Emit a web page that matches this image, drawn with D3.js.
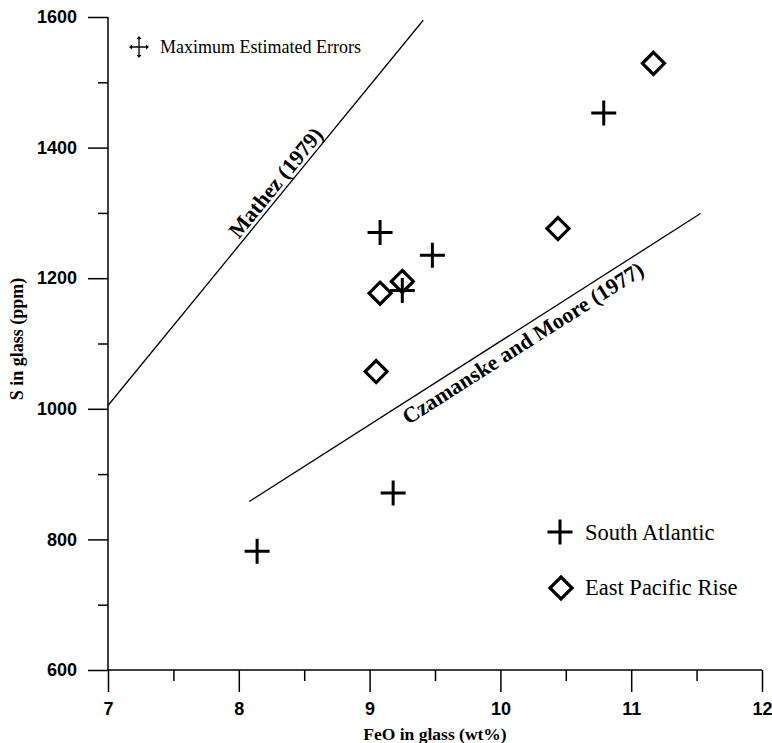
<!DOCTYPE html>
<html>
<head>
<meta charset="utf-8">
<script src="https://cdn.jsdelivr.net/npm/d3@7"></script>
<style>
  body { margin: 0; background: #fff; }
  svg { display: block; }
</style>
</head>
<body>
<svg width="772" height="743"></svg>
<script>
// South Atlantic glasses (FeO wt%, S ppm)
var saFeO = [8.14, 9.18, 9.08, 9.48, 9.25, 10.79];
var saS   = [782, 871, 1270, 1235, 1181, 1453];
// East Pacific Rise glasses
var eprFeO = [11.17, 10.44, 9.08, 9.25, 9.05];
var eprS   = [1529, 1276, 1177, 1195, 1057];
// saturation lines
var mathezFeO = [7.0, 9.41];
var mathezS   = [1005, 1595];
var czFeO = [8.08, 11.53];
var czS   = [858, 1299];

var xTicks = [7, 8, 9, 10, 11, 12];
var yTicks = [600, 800, 1000, 1200, 1400, 1600];

var svg = d3.select("svg");
var x = d3.scaleLinear().domain([7, 12]).range([108, 762]);
var y = d3.scaleLinear().domain([600, 1600]).range([670, 17]);

var tickFont = "'Liberation Sans', Arial, sans-serif";
var serif = "'Liberation Serif', 'Times New Roman', serif";

// y axis
svg.append("g").attr("class", "yax").attr("transform", "translate(108,0)")
    .call(d3.axisLeft(y).tickValues(yTicks).tickSize(20).tickPadding(11).tickFormat(d3.format("d")));
svg.append("g").attr("transform", "translate(108,0)")
    .call(d3.axisLeft(y).tickValues(d3.range(700, 1600, 200)).tickSize(10).tickFormat(""))
    .select(".domain").remove();

// x axis
svg.append("g").attr("class", "xax").attr("transform", "translate(0,670)")
    .call(d3.axisBottom(x).tickValues(xTicks).tickSize(22).tickPadding(10).tickFormat(d3.format("d")));
svg.append("g").attr("transform", "translate(0,670)")
    .call(d3.axisBottom(x).tickValues(d3.range(7.5, 12, 1)).tickSize(11).tickFormat(""))
    .select(".domain").remove();

svg.select(".yax .domain").attr("d", "M0,17V670");
svg.select(".xax .domain").attr("d", "M108,0H762");
svg.selectAll(".tick line").attr("stroke", "#000").attr("stroke-width", 1.5);
svg.selectAll(".domain").attr("stroke", "#000").attr("stroke-width", 1.5);
svg.selectAll(".tick text")
    .attr("font-family", tickFont).attr("font-weight", "bold").attr("font-size", 18).attr("fill", "#000");

// axis titles
svg.append("text").attr("x", 435).attr("y", 740).attr("text-anchor", "middle")
    .attr("font-family", serif).attr("font-weight", "bold").attr("font-size", 17.5)
    .text("FeO in glass (wt%)");
svg.append("text").attr("transform", "translate(23,339) rotate(-90)").attr("text-anchor", "middle")
    .attr("font-family", serif).attr("font-weight", "bold").attr("font-size", 18)
    .text("S in glass (ppm)");

// reference lines
function refLine(fx, fs) {
  svg.append("line")
    .attr("x1", x(fx[0])).attr("y1", y(fs[0]))
    .attr("x2", x(fx[1])).attr("y2", y(fs[1]))
    .attr("stroke", "#000").attr("stroke-width", 1.3);
}
refLine(mathezFeO, mathezS);
refLine(czFeO, czS);

function lineLabel(fx, fs, t, txt, off) {
  var x1 = x(fx[0]), y1 = y(fs[0]), x2 = x(fx[1]), y2 = y(fs[1]);
  var ang = Math.atan2(y2 - y1, x2 - x1) * 180 / Math.PI;
  var px = x1 + (x2 - x1) * t, py = y1 + (y2 - y1) * t;
  svg.append("text")
    .attr("transform", "translate(" + px + "," + py + ") rotate(" + ang + ")")
    .attr("y", off)
    .attr("text-anchor", "middle")
    .attr("font-family", serif).attr("font-weight", "bold").attr("font-size", 22)
    .text(txt);
}
lineLabel(mathezFeO, mathezS, 0.56, "Mathez (1979)", -4);
lineLabel(czFeO, czS, 0.59, "Czamanske and Moore (1977)", 21);

// markers
var cross = "M-12.5,0H12.5M0,-12.5V12.5";
var diamond = "M0,-11L11,0L0,11L-11,0Z";

svg.append("g").selectAll("path").data(d3.range(saFeO.length)).enter().append("path")
    .attr("transform", function(i) { return "translate(" + x(saFeO[i]) + "," + y(saS[i]) + ")"; })
    .attr("d", cross).attr("fill", "none").attr("stroke", "#000").attr("stroke-width", 3);

svg.append("g").selectAll("path").data(d3.range(eprFeO.length)).enter().append("path")
    .attr("transform", function(i) { return "translate(" + x(eprFeO[i]) + "," + y(eprS[i]) + ")"; })
    .attr("d", diamond).attr("fill", "none").attr("stroke", "#000").attr("stroke-width", 3.2);

// legend
var leg = svg.append("g");
leg.append("path").attr("transform", "translate(560,532)").attr("d", cross)
    .attr("fill", "none").attr("stroke", "#000").attr("stroke-width", 3);
leg.append("text").attr("x", 585).attr("y", 540)
    .attr("font-family", serif).attr("font-size", 22.5).text("South Atlantic");
leg.append("path").attr("transform", "translate(561,588)").attr("d", diamond)
    .attr("fill", "none").attr("stroke", "#000").attr("stroke-width", 3.2);
leg.append("text").attr("x", 585).attr("y", 595)
    .attr("font-family", serif).attr("font-size", 22.5).text("East Pacific Rise");

// error indicator
var err = svg.append("g").attr("transform", "translate(139,47)");
err.append("path").attr("d", "M-9,0H9M0,-10V10").attr("stroke", "#000").attr("stroke-width", 1.3);
err.append("path").attr("d", "M-10,0l3,-2.5v5zM10,0l-3,-2.5v5zM0,-11l-2.5,3h5zM0,11l-2.5,-3h5z").attr("fill", "#000");
svg.append("text").attr("x", 160).attr("y", 53)
    .attr("font-family", serif).attr("font-size", 18).text("Maximum Estimated Errors");
</script>
</body>
</html>
